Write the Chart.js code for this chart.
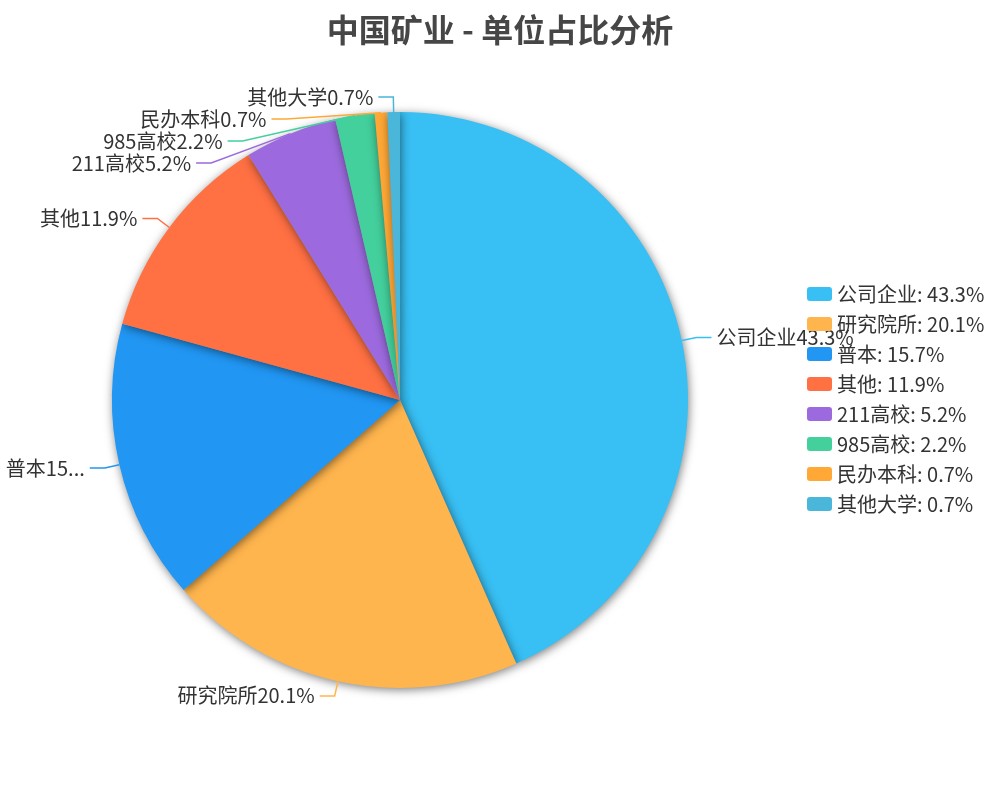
<!DOCTYPE html>
<html>
<head>
<meta charset="utf-8">
<script src="https://cdn.jsdelivr.net/npm/chart.js@4"></script>
<style>
  html, body { margin: 0; padding: 0; background: #fff; }
  #wrap { width: 1000px; height: 800px; position: relative; }
</style>
</head>
<body>
<div id="wrap"><canvas id="pieChart"></canvas></div>
<script>
const categories = ['公司企业', '研究院所', '普本', '其他', '211高校', '985高校', '民办本科', '其他大学'];
const shares = [43.3, 20.1, 15.7, 11.9, 5.2, 2.2, 0.7, 0.7];
const sliceColors = ['#38bff3', '#ffb54e', '#2196f3', '#ff7043', '#9c6ade', '#43d09c', '#ffa836', '#4ab6d9'];
const chartTitle = '中国矿业 - 单位占比分析';

const FONT = '"Noto Sans CJK SC", "Noto Sans", sans-serif';

// shadow under the slices
const shadowPlugin = {
  id: 'pieShadow',
  beforeDatasetsDraw(chart) {
    const ctx = chart.ctx;
    ctx.save();
    ctx.shadowColor = 'rgba(0,0,0,0.5)';
    ctx.shadowBlur = 10;
    ctx.shadowOffsetX = 1;
    ctx.shadowOffsetY = 2;
  },
  afterDatasetsDraw(chart) {
    chart.ctx.restore();
  }
};

// outside labels with leader lines, title and legend
const labelPlugin = {
  id: 'outLabels',
  afterDraw(chart) {
    const ctx = chart.ctx;
    const arcs = chart.getDatasetMeta(0).data;
    const len1 = 15, len2 = 15, gap = 22;
    const items = arcs.map((arc, i) => {
      const mid = (arc.startAngle + arc.endAngle) / 2;
      const r = arc.outerRadius;
      const R = r + len1;
      return {
        i, arc,
        sx: arc.x + Math.cos(mid) * r,
        sy: arc.y + Math.sin(mid) * r,
        ex: arc.x + Math.cos(mid) * R,
        ey: arc.y + Math.sin(mid) * R,
        R,
        left: Math.cos(mid) < 0
      };
    });

    [true, false].forEach(side => {
      const list = items.filter(it => it.left === side).sort((a, b) => a.ey - b.ey);
      let last = -Infinity;
      list.forEach(it => {
        let y = it.ey;
        if (y < last + gap) {
          y = last + gap;
          const dy = y - it.arc.y;
          const dx = Math.abs(dy) < it.R ? Math.sqrt(it.R * it.R - dy * dy) : 0;
          it.ex = it.arc.x + (side ? -dx : dx);
          it.ey = y;
        }
        last = y;
      });
    });

    ctx.save();
    ctx.font = '20px ' + FONT;
    ctx.textBaseline = 'middle';
    items.forEach(it => {
      const dir = it.left ? -1 : 1;
      const lx = it.ex + dir * len2;
      ctx.strokeStyle = sliceColors[it.i];
      ctx.lineWidth = 1.5;
      ctx.beginPath();
      ctx.moveTo(it.sx, it.sy);
      ctx.lineTo(it.ex, it.ey);
      ctx.lineTo(lx, it.ey);
      ctx.stroke();

      let text = categories[it.i] + shares[it.i].toFixed(1) + '%';
      const tx = lx + dir * 5;
      if (it.left) {
        const avail = tx - 3;
        if (ctx.measureText(text).width > avail) {
          let t = text;
          while (t.length > 1 && ctx.measureText(t + '...').width > avail) t = t.slice(0, -1);
          text = t + '...';
        }
      }
      ctx.fillStyle = '#333';
      ctx.textAlign = it.left ? 'right' : 'left';
      ctx.fillText(text, tx, it.ey);
    });

    // title
    ctx.font = 'bold 32px ' + FONT;
    ctx.fillStyle = '#464646';
    ctx.textAlign = 'center';
    ctx.fillText(chartTitle, 500, 30);

    // legend
    ctx.font = '20px ' + FONT;
    ctx.textAlign = 'left';
    categories.forEach((name, i) => {
      const y = 294 + i * 30;
      ctx.fillStyle = sliceColors[i];
      ctx.beginPath();
      ctx.roundRect(807, y - 7, 25, 14, 3);
      ctx.fill();
      ctx.fillStyle = '#333';
      ctx.fillText(name + ': ' + shares[i] + '%', 837, y);
    });
    ctx.restore();
  }
};

new Chart(document.getElementById('pieChart'), {
  type: 'pie',
  data: {
    labels: categories,
    datasets: [{
      data: shares,
      backgroundColor: sliceColors,
      borderWidth: 0
    }]
  },
  options: {
    responsive: true,
    maintainAspectRatio: false,
    animation: false,
    layout: { padding: { left: 112, right: 312, top: 112, bottom: 112 } },
    plugins: {
      legend: { display: false },
      title: { display: false },
      tooltip: { enabled: false }
    }
  },
  plugins: [shadowPlugin, labelPlugin]
});
</script>
</body>
</html>
